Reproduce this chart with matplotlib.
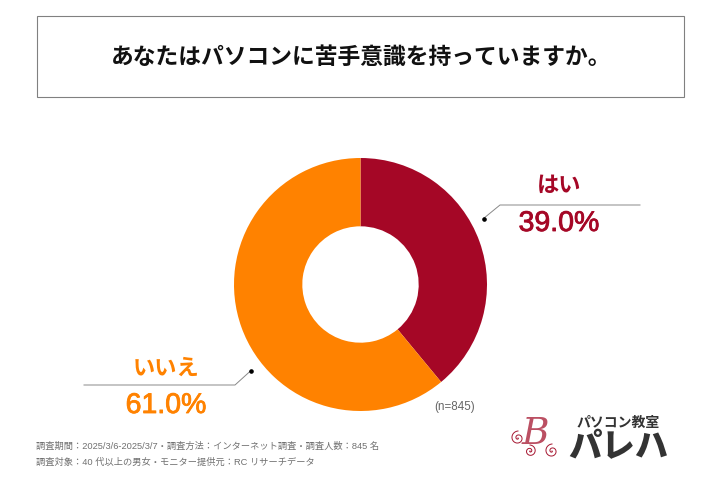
#!/usr/bin/env python3
import matplotlib
matplotlib.use('Agg')
import matplotlib.pyplot as plt
import matplotlib.patheffects as pe
import numpy as np
from matplotlib.patches import Rectangle

JP = ['Noto Sans CJK JP', 'DejaVu Sans']
MIX = ['Liberation Sans', 'Noto Sans CJK JP', 'DejaVu Sans']
plt.rcParams['font.family'] = JP

title = 'あなたはパソコンに苦手意識を持っていますか。'
labels = ['はい', 'いいえ']
values = [39.0, 61.0]
value_labels = ['39.0%', '61.0%']
colors = ['#A50726', '#FF8200']
n_label = '(n=845)'
note_1 = '調査期間：2025/3/6-2025/3/7・調査方法：インターネット調査・調査人数：845 名'
note_2 = '調査対象：40 代以上の男女・モニター提供元：RC リサーチデータ'

W, H = 723, 479
fig = plt.figure(figsize=(W / 100, H / 100), dpi=100, facecolor='white')

# overlay in pixel coords, y down
a = fig.add_axes([0, 0, 1, 1])
a.set_xlim(0, W)
a.set_ylim(H, 0)
a.axis('off')

# donut
cx, cy, r = 360.5, 284.5, 126.5
p = fig.add_axes([(cx - r) / W, 1 - (cy + r) / H, 2 * r / W, 2 * r / H])
p.pie(values, colors=colors, startangle=90, counterclock=False, radius=1,
      wedgeprops={'width': 0.54, 'linewidth': 0})
p.set_xlim(-1, 1)
p.set_ylim(-1, 1)
p.axis('off')

# title box
a.add_patch(Rectangle((37, 16), 647, 81, fill=False, ec='#808080', lw=0.8))
a.text(361.5, 57, title, ha='center', va='center', fontsize=16.4,
       fontweight='bold', color='#111111')

# callouts
a.plot([483.5, 500, 640], [218.5, 205, 205], color='#888888', lw=0.7)
a.plot([483.5], [218.5], 'o', color='black', ms=2.3)
a.plot([251, 235, 84], [370.5, 385, 385], color='#888888', lw=0.7)
a.plot([251], [370.5], 'o', color='black', ms=2.3)

a.text(559, 185, labels[0], ha='center', va='center', fontsize=16,
       fontweight='bold', color=colors[0])
a.text(166, 368, labels[1], ha='center', va='center', fontsize=16,
       fontweight='bold', color=colors[1])

# percent figures are a little heavier than regular
t0 = a.text(559, 224, value_labels[0], ha='center', va='center', fontsize=20.5,
            family=MIX, color=colors[0])
t1 = a.text(166, 406, value_labels[1], ha='center', va='center', fontsize=20.5,
            family=MIX, color=colors[1])
t0.set_path_effects([pe.withStroke(linewidth=0.6, foreground=colors[0])])
t1.set_path_effects([pe.withStroke(linewidth=0.6, foreground=colors[1])])

a.text(434, 407, n_label, ha='left', va='center', fontsize=8.4,
       family=MIX, color='#666666')

# footer
a.text(36, 446, note_1, ha='left', va='center', fontsize=6.65, family=MIX, color='#707070')
a.text(36, 462, note_2, ha='left', va='center', fontsize=6.65, family=MIX, color='#707070')

# logo, only roughly: thin B with a couple of curls
a.text(535, 434, 'B', ha='center', va='center', fontsize=27, family='DejaVu Serif',
       style='italic', color='#A5152F', alpha=0.75)
for sx, sy, sr, d in [(518, 438, 7, 1), (530, 451, 6, -1), (552, 451, 7, 1)]:
    th = np.linspace(0, 3.5 * np.pi, 80)
    rr = sr * th / th[-1]
    a.plot(sx + d * rr * np.cos(th), sy + rr * np.sin(th), color='#A5152F', lw=0.7)
a.text(618.5, 423, 'パソコン教室', ha='center', va='center', fontsize=10,
       fontweight='bold', color='#333333')
a.text(618.5, 447, 'パレハ', ha='center', va='center', fontsize=24,
       fontweight='black', color='#333333')

fig.savefig('out.png', dpi=100)
